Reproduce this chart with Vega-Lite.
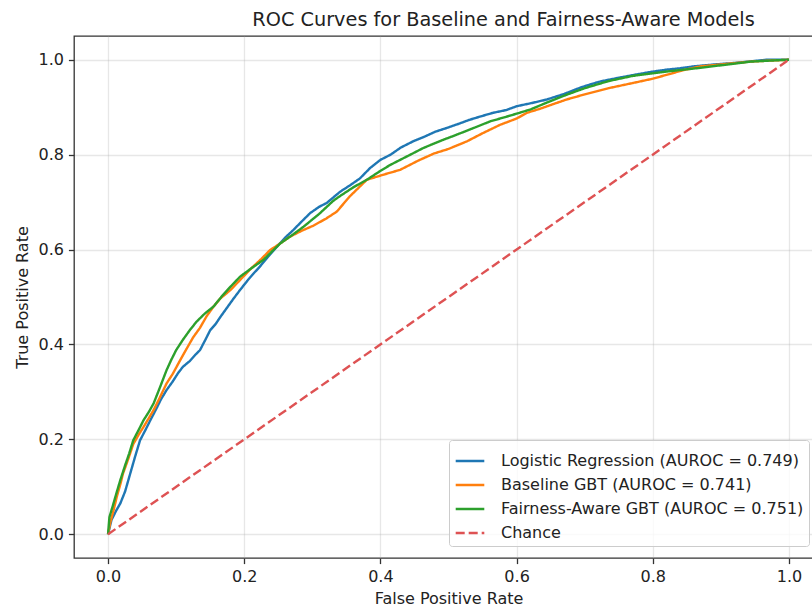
{
  "$schema": "https://vega.github.io/schema/vega-lite/v6.json",
  "width": 749,
  "height": 522,
  "autosize": {"type": "none"},
  "padding": {"left": 74, "top": 36, "right": 0, "bottom": 50},
  "background": "white",
  "title": {
    "text": "ROC Curves for Baseline and Fairness-Aware Models",
    "font": "DejaVu Sans",
    "fontSize": 19.3,
    "fontWeight": "normal",
    "color": "#222222",
    "anchor": "middle",
    "dx": 55,
    "offset": -9,
    "baseline": "alphabetic"
  },
  "config": {
    "view": {"stroke": "#333333", "strokeWidth": 1.3},
    "axis": {
      "labelFont": "DejaVu Sans",
      "labelFontSize": 16,
      "titleFont": "DejaVu Sans",
      "titleFontSize": 16,
      "titleFontWeight": "normal",
      "labelColor": "#222222",
      "titleColor": "#222222",
      "tickColor": "#333333",
      "tickSize": 5.6,
      "tickWidth": 1.3,
      "labelPadding": 5,
      "domain": false,
      "gridColor": "#b0b0b0",
      "gridOpacity": 0.3,
      "gridWidth": 1.3
    },
    "legend": {
      "orient": "none",
      "legendX": 375,
      "legendY": 404,
      "symbolType": "stroke",
      "symbolSize": 818,
      "symbolStrokeWidth": 2.4,
      "labelFont": "DejaVu Sans",
      "labelFontSize": 16,
      "labelColor": "#222222",
      "labelOffset": 15,
      "labelLimit": 500,
      "rowPadding": 0,
      "padding": 5,
      "fillColor": "rgba(255,255,255,0.8)",
      "strokeColor": "#cccccc",
      "cornerRadius": 3
    }
  },
  "data": {
    "values": [
      {"model": "Logistic Regression (AUROC = 0.749)", "fpr": 0, "tpr": 0},
      {"model": "Logistic Regression (AUROC = 0.749)", "fpr": 0.005, "tpr": 0.03},
      {"model": "Logistic Regression (AUROC = 0.749)", "fpr": 0.012, "tpr": 0.05},
      {"model": "Logistic Regression (AUROC = 0.749)", "fpr": 0.018, "tpr": 0.065},
      {"model": "Logistic Regression (AUROC = 0.749)", "fpr": 0.025, "tpr": 0.09},
      {"model": "Logistic Regression (AUROC = 0.749)", "fpr": 0.033, "tpr": 0.13},
      {"model": "Logistic Regression (AUROC = 0.749)", "fpr": 0.04, "tpr": 0.165},
      {"model": "Logistic Regression (AUROC = 0.749)", "fpr": 0.047, "tpr": 0.198},
      {"model": "Logistic Regression (AUROC = 0.749)", "fpr": 0.055, "tpr": 0.22},
      {"model": "Logistic Regression (AUROC = 0.749)", "fpr": 0.062, "tpr": 0.24},
      {"model": "Logistic Regression (AUROC = 0.749)", "fpr": 0.07, "tpr": 0.262},
      {"model": "Logistic Regression (AUROC = 0.749)", "fpr": 0.078, "tpr": 0.285},
      {"model": "Logistic Regression (AUROC = 0.749)", "fpr": 0.086, "tpr": 0.304},
      {"model": "Logistic Regression (AUROC = 0.749)", "fpr": 0.095, "tpr": 0.322},
      {"model": "Logistic Regression (AUROC = 0.749)", "fpr": 0.103, "tpr": 0.34},
      {"model": "Logistic Regression (AUROC = 0.749)", "fpr": 0.11, "tpr": 0.353},
      {"model": "Logistic Regression (AUROC = 0.749)", "fpr": 0.12, "tpr": 0.365},
      {"model": "Logistic Regression (AUROC = 0.749)", "fpr": 0.128, "tpr": 0.378},
      {"model": "Logistic Regression (AUROC = 0.749)", "fpr": 0.135, "tpr": 0.388},
      {"model": "Logistic Regression (AUROC = 0.749)", "fpr": 0.143, "tpr": 0.41},
      {"model": "Logistic Regression (AUROC = 0.749)", "fpr": 0.15, "tpr": 0.43},
      {"model": "Logistic Regression (AUROC = 0.749)", "fpr": 0.158, "tpr": 0.443},
      {"model": "Logistic Regression (AUROC = 0.749)", "fpr": 0.165, "tpr": 0.458},
      {"model": "Logistic Regression (AUROC = 0.749)", "fpr": 0.175, "tpr": 0.478},
      {"model": "Logistic Regression (AUROC = 0.749)", "fpr": 0.185, "tpr": 0.498},
      {"model": "Logistic Regression (AUROC = 0.749)", "fpr": 0.194, "tpr": 0.515},
      {"model": "Logistic Regression (AUROC = 0.749)", "fpr": 0.205, "tpr": 0.535},
      {"model": "Logistic Regression (AUROC = 0.749)", "fpr": 0.214, "tpr": 0.55},
      {"model": "Logistic Regression (AUROC = 0.749)", "fpr": 0.223, "tpr": 0.564},
      {"model": "Logistic Regression (AUROC = 0.749)", "fpr": 0.235, "tpr": 0.585},
      {"model": "Logistic Regression (AUROC = 0.749)", "fpr": 0.248, "tpr": 0.606},
      {"model": "Logistic Regression (AUROC = 0.749)", "fpr": 0.26, "tpr": 0.625},
      {"model": "Logistic Regression (AUROC = 0.749)", "fpr": 0.272, "tpr": 0.641},
      {"model": "Logistic Regression (AUROC = 0.749)", "fpr": 0.285, "tpr": 0.66},
      {"model": "Logistic Regression (AUROC = 0.749)", "fpr": 0.297, "tpr": 0.677},
      {"model": "Logistic Regression (AUROC = 0.749)", "fpr": 0.31, "tpr": 0.69},
      {"model": "Logistic Regression (AUROC = 0.749)", "fpr": 0.321, "tpr": 0.698},
      {"model": "Logistic Regression (AUROC = 0.749)", "fpr": 0.331, "tpr": 0.71},
      {"model": "Logistic Regression (AUROC = 0.749)", "fpr": 0.341, "tpr": 0.722},
      {"model": "Logistic Regression (AUROC = 0.749)", "fpr": 0.355, "tpr": 0.735},
      {"model": "Logistic Regression (AUROC = 0.749)", "fpr": 0.37, "tpr": 0.75},
      {"model": "Logistic Regression (AUROC = 0.749)", "fpr": 0.385, "tpr": 0.772},
      {"model": "Logistic Regression (AUROC = 0.749)", "fpr": 0.4, "tpr": 0.789},
      {"model": "Logistic Regression (AUROC = 0.749)", "fpr": 0.415, "tpr": 0.8},
      {"model": "Logistic Regression (AUROC = 0.749)", "fpr": 0.43, "tpr": 0.815},
      {"model": "Logistic Regression (AUROC = 0.749)", "fpr": 0.448, "tpr": 0.828},
      {"model": "Logistic Regression (AUROC = 0.749)", "fpr": 0.465, "tpr": 0.838},
      {"model": "Logistic Regression (AUROC = 0.749)", "fpr": 0.48, "tpr": 0.848},
      {"model": "Logistic Regression (AUROC = 0.749)", "fpr": 0.497, "tpr": 0.856},
      {"model": "Logistic Regression (AUROC = 0.749)", "fpr": 0.515, "tpr": 0.865},
      {"model": "Logistic Regression (AUROC = 0.749)", "fpr": 0.53, "tpr": 0.873},
      {"model": "Logistic Regression (AUROC = 0.749)", "fpr": 0.546, "tpr": 0.88},
      {"model": "Logistic Regression (AUROC = 0.749)", "fpr": 0.565, "tpr": 0.888},
      {"model": "Logistic Regression (AUROC = 0.749)", "fpr": 0.585, "tpr": 0.894},
      {"model": "Logistic Regression (AUROC = 0.749)", "fpr": 0.6, "tpr": 0.902},
      {"model": "Logistic Regression (AUROC = 0.749)", "fpr": 0.62, "tpr": 0.908},
      {"model": "Logistic Regression (AUROC = 0.749)", "fpr": 0.644, "tpr": 0.916},
      {"model": "Logistic Regression (AUROC = 0.749)", "fpr": 0.67, "tpr": 0.928},
      {"model": "Logistic Regression (AUROC = 0.749)", "fpr": 0.695, "tpr": 0.942},
      {"model": "Logistic Regression (AUROC = 0.749)", "fpr": 0.722, "tpr": 0.954},
      {"model": "Logistic Regression (AUROC = 0.749)", "fpr": 0.75, "tpr": 0.962},
      {"model": "Logistic Regression (AUROC = 0.749)", "fpr": 0.78, "tpr": 0.97},
      {"model": "Logistic Regression (AUROC = 0.749)", "fpr": 0.8, "tpr": 0.975},
      {"model": "Logistic Regression (AUROC = 0.749)", "fpr": 0.82, "tpr": 0.979},
      {"model": "Logistic Regression (AUROC = 0.749)", "fpr": 0.84, "tpr": 0.982},
      {"model": "Logistic Regression (AUROC = 0.749)", "fpr": 0.86, "tpr": 0.986},
      {"model": "Logistic Regression (AUROC = 0.749)", "fpr": 0.89, "tpr": 0.99},
      {"model": "Logistic Regression (AUROC = 0.749)", "fpr": 0.918, "tpr": 0.993},
      {"model": "Logistic Regression (AUROC = 0.749)", "fpr": 0.94, "tpr": 0.996},
      {"model": "Logistic Regression (AUROC = 0.749)", "fpr": 0.967, "tpr": 1.0},
      {"model": "Logistic Regression (AUROC = 0.749)", "fpr": 1.0, "tpr": 1.0},

      {"model": "Baseline GBT (AUROC = 0.741)", "fpr": 0, "tpr": 0},
      {"model": "Baseline GBT (AUROC = 0.741)", "fpr": 0.003, "tpr": 0.023},
      {"model": "Baseline GBT (AUROC = 0.741)", "fpr": 0.008, "tpr": 0.05},
      {"model": "Baseline GBT (AUROC = 0.741)", "fpr": 0.013, "tpr": 0.08},
      {"model": "Baseline GBT (AUROC = 0.741)", "fpr": 0.018, "tpr": 0.105},
      {"model": "Baseline GBT (AUROC = 0.741)", "fpr": 0.022, "tpr": 0.128},
      {"model": "Baseline GBT (AUROC = 0.741)", "fpr": 0.03, "tpr": 0.16},
      {"model": "Baseline GBT (AUROC = 0.741)", "fpr": 0.037, "tpr": 0.19},
      {"model": "Baseline GBT (AUROC = 0.741)", "fpr": 0.045, "tpr": 0.21},
      {"model": "Baseline GBT (AUROC = 0.741)", "fpr": 0.052, "tpr": 0.226},
      {"model": "Baseline GBT (AUROC = 0.741)", "fpr": 0.06, "tpr": 0.245},
      {"model": "Baseline GBT (AUROC = 0.741)", "fpr": 0.067, "tpr": 0.262},
      {"model": "Baseline GBT (AUROC = 0.741)", "fpr": 0.075, "tpr": 0.285},
      {"model": "Baseline GBT (AUROC = 0.741)", "fpr": 0.086, "tpr": 0.318},
      {"model": "Baseline GBT (AUROC = 0.741)", "fpr": 0.095, "tpr": 0.338},
      {"model": "Baseline GBT (AUROC = 0.741)", "fpr": 0.106, "tpr": 0.367},
      {"model": "Baseline GBT (AUROC = 0.741)", "fpr": 0.115, "tpr": 0.39},
      {"model": "Baseline GBT (AUROC = 0.741)", "fpr": 0.125, "tpr": 0.415},
      {"model": "Baseline GBT (AUROC = 0.741)", "fpr": 0.135, "tpr": 0.435},
      {"model": "Baseline GBT (AUROC = 0.741)", "fpr": 0.145, "tpr": 0.46},
      {"model": "Baseline GBT (AUROC = 0.741)", "fpr": 0.155, "tpr": 0.48},
      {"model": "Baseline GBT (AUROC = 0.741)", "fpr": 0.165, "tpr": 0.497},
      {"model": "Baseline GBT (AUROC = 0.741)", "fpr": 0.18, "tpr": 0.515},
      {"model": "Baseline GBT (AUROC = 0.741)", "fpr": 0.194, "tpr": 0.536},
      {"model": "Baseline GBT (AUROC = 0.741)", "fpr": 0.21, "tpr": 0.56},
      {"model": "Baseline GBT (AUROC = 0.741)", "fpr": 0.225, "tpr": 0.58},
      {"model": "Baseline GBT (AUROC = 0.741)", "fpr": 0.238, "tpr": 0.599},
      {"model": "Baseline GBT (AUROC = 0.741)", "fpr": 0.252, "tpr": 0.612},
      {"model": "Baseline GBT (AUROC = 0.741)", "fpr": 0.267, "tpr": 0.627},
      {"model": "Baseline GBT (AUROC = 0.741)", "fpr": 0.285, "tpr": 0.64},
      {"model": "Baseline GBT (AUROC = 0.741)", "fpr": 0.301, "tpr": 0.65},
      {"model": "Baseline GBT (AUROC = 0.741)", "fpr": 0.32, "tpr": 0.665},
      {"model": "Baseline GBT (AUROC = 0.741)", "fpr": 0.336, "tpr": 0.68},
      {"model": "Baseline GBT (AUROC = 0.741)", "fpr": 0.355, "tpr": 0.712},
      {"model": "Baseline GBT (AUROC = 0.741)", "fpr": 0.38, "tpr": 0.747},
      {"model": "Baseline GBT (AUROC = 0.741)", "fpr": 0.405, "tpr": 0.758},
      {"model": "Baseline GBT (AUROC = 0.741)", "fpr": 0.429, "tpr": 0.768},
      {"model": "Baseline GBT (AUROC = 0.741)", "fpr": 0.455, "tpr": 0.787},
      {"model": "Baseline GBT (AUROC = 0.741)", "fpr": 0.478, "tpr": 0.802},
      {"model": "Baseline GBT (AUROC = 0.741)", "fpr": 0.5, "tpr": 0.812},
      {"model": "Baseline GBT (AUROC = 0.741)", "fpr": 0.527, "tpr": 0.828},
      {"model": "Baseline GBT (AUROC = 0.741)", "fpr": 0.55, "tpr": 0.845},
      {"model": "Baseline GBT (AUROC = 0.741)", "fpr": 0.576, "tpr": 0.863},
      {"model": "Baseline GBT (AUROC = 0.741)", "fpr": 0.6, "tpr": 0.876},
      {"model": "Baseline GBT (AUROC = 0.741)", "fpr": 0.615, "tpr": 0.888},
      {"model": "Baseline GBT (AUROC = 0.741)", "fpr": 0.635, "tpr": 0.897},
      {"model": "Baseline GBT (AUROC = 0.741)", "fpr": 0.655, "tpr": 0.907},
      {"model": "Baseline GBT (AUROC = 0.741)", "fpr": 0.673, "tpr": 0.916},
      {"model": "Baseline GBT (AUROC = 0.741)", "fpr": 0.7, "tpr": 0.927},
      {"model": "Baseline GBT (AUROC = 0.741)", "fpr": 0.735, "tpr": 0.94},
      {"model": "Baseline GBT (AUROC = 0.741)", "fpr": 0.771, "tpr": 0.951},
      {"model": "Baseline GBT (AUROC = 0.741)", "fpr": 0.8, "tpr": 0.96},
      {"model": "Baseline GBT (AUROC = 0.741)", "fpr": 0.82, "tpr": 0.968},
      {"model": "Baseline GBT (AUROC = 0.741)", "fpr": 0.845, "tpr": 0.978},
      {"model": "Baseline GBT (AUROC = 0.741)", "fpr": 0.87, "tpr": 0.986},
      {"model": "Baseline GBT (AUROC = 0.741)", "fpr": 0.9, "tpr": 0.99},
      {"model": "Baseline GBT (AUROC = 0.741)", "fpr": 0.943, "tpr": 0.996},
      {"model": "Baseline GBT (AUROC = 0.741)", "fpr": 0.97, "tpr": 0.998},
      {"model": "Baseline GBT (AUROC = 0.741)", "fpr": 1.0, "tpr": 1.0},

      {"model": "Fairness-Aware GBT (AUROC = 0.751)", "fpr": 0, "tpr": 0},
      {"model": "Fairness-Aware GBT (AUROC = 0.751)", "fpr": 0.002, "tpr": 0.036},
      {"model": "Fairness-Aware GBT (AUROC = 0.751)", "fpr": 0.007, "tpr": 0.06},
      {"model": "Fairness-Aware GBT (AUROC = 0.751)", "fpr": 0.012, "tpr": 0.085},
      {"model": "Fairness-Aware GBT (AUROC = 0.751)", "fpr": 0.018, "tpr": 0.114},
      {"model": "Fairness-Aware GBT (AUROC = 0.751)", "fpr": 0.025, "tpr": 0.145},
      {"model": "Fairness-Aware GBT (AUROC = 0.751)", "fpr": 0.031, "tpr": 0.17},
      {"model": "Fairness-Aware GBT (AUROC = 0.751)", "fpr": 0.037, "tpr": 0.198},
      {"model": "Fairness-Aware GBT (AUROC = 0.751)", "fpr": 0.045, "tpr": 0.22},
      {"model": "Fairness-Aware GBT (AUROC = 0.751)", "fpr": 0.052, "tpr": 0.24},
      {"model": "Fairness-Aware GBT (AUROC = 0.751)", "fpr": 0.06, "tpr": 0.258},
      {"model": "Fairness-Aware GBT (AUROC = 0.751)", "fpr": 0.067, "tpr": 0.276},
      {"model": "Fairness-Aware GBT (AUROC = 0.751)", "fpr": 0.075, "tpr": 0.305},
      {"model": "Fairness-Aware GBT (AUROC = 0.751)", "fpr": 0.086, "tpr": 0.346},
      {"model": "Fairness-Aware GBT (AUROC = 0.751)", "fpr": 0.093, "tpr": 0.368},
      {"model": "Fairness-Aware GBT (AUROC = 0.751)", "fpr": 0.1, "tpr": 0.388},
      {"model": "Fairness-Aware GBT (AUROC = 0.751)", "fpr": 0.11, "tpr": 0.41},
      {"model": "Fairness-Aware GBT (AUROC = 0.751)", "fpr": 0.12, "tpr": 0.43},
      {"model": "Fairness-Aware GBT (AUROC = 0.751)", "fpr": 0.13, "tpr": 0.448},
      {"model": "Fairness-Aware GBT (AUROC = 0.751)", "fpr": 0.142, "tpr": 0.465},
      {"model": "Fairness-Aware GBT (AUROC = 0.751)", "fpr": 0.155, "tpr": 0.48},
      {"model": "Fairness-Aware GBT (AUROC = 0.751)", "fpr": 0.168, "tpr": 0.503},
      {"model": "Fairness-Aware GBT (AUROC = 0.751)", "fpr": 0.18, "tpr": 0.522},
      {"model": "Fairness-Aware GBT (AUROC = 0.751)", "fpr": 0.194, "tpr": 0.543},
      {"model": "Fairness-Aware GBT (AUROC = 0.751)", "fpr": 0.21, "tpr": 0.56},
      {"model": "Fairness-Aware GBT (AUROC = 0.751)", "fpr": 0.228, "tpr": 0.578},
      {"model": "Fairness-Aware GBT (AUROC = 0.751)", "fpr": 0.24, "tpr": 0.595},
      {"model": "Fairness-Aware GBT (AUROC = 0.751)", "fpr": 0.253, "tpr": 0.613},
      {"model": "Fairness-Aware GBT (AUROC = 0.751)", "fpr": 0.27, "tpr": 0.63},
      {"model": "Fairness-Aware GBT (AUROC = 0.751)", "fpr": 0.287, "tpr": 0.648},
      {"model": "Fairness-Aware GBT (AUROC = 0.751)", "fpr": 0.31, "tpr": 0.675},
      {"model": "Fairness-Aware GBT (AUROC = 0.751)", "fpr": 0.331, "tpr": 0.703},
      {"model": "Fairness-Aware GBT (AUROC = 0.751)", "fpr": 0.341, "tpr": 0.713},
      {"model": "Fairness-Aware GBT (AUROC = 0.751)", "fpr": 0.36, "tpr": 0.731},
      {"model": "Fairness-Aware GBT (AUROC = 0.751)", "fpr": 0.38, "tpr": 0.747},
      {"model": "Fairness-Aware GBT (AUROC = 0.751)", "fpr": 0.397, "tpr": 0.763},
      {"model": "Fairness-Aware GBT (AUROC = 0.751)", "fpr": 0.414, "tpr": 0.778},
      {"model": "Fairness-Aware GBT (AUROC = 0.751)", "fpr": 0.44, "tpr": 0.797},
      {"model": "Fairness-Aware GBT (AUROC = 0.751)", "fpr": 0.463, "tpr": 0.814},
      {"model": "Fairness-Aware GBT (AUROC = 0.751)", "fpr": 0.49, "tpr": 0.83},
      {"model": "Fairness-Aware GBT (AUROC = 0.751)", "fpr": 0.512, "tpr": 0.842},
      {"model": "Fairness-Aware GBT (AUROC = 0.751)", "fpr": 0.535, "tpr": 0.855},
      {"model": "Fairness-Aware GBT (AUROC = 0.751)", "fpr": 0.561, "tpr": 0.87},
      {"model": "Fairness-Aware GBT (AUROC = 0.751)", "fpr": 0.59, "tpr": 0.882},
      {"model": "Fairness-Aware GBT (AUROC = 0.751)", "fpr": 0.62, "tpr": 0.895},
      {"model": "Fairness-Aware GBT (AUROC = 0.751)", "fpr": 0.645, "tpr": 0.91},
      {"model": "Fairness-Aware GBT (AUROC = 0.751)", "fpr": 0.673, "tpr": 0.926},
      {"model": "Fairness-Aware GBT (AUROC = 0.751)", "fpr": 0.7, "tpr": 0.94},
      {"model": "Fairness-Aware GBT (AUROC = 0.751)", "fpr": 0.735, "tpr": 0.955},
      {"model": "Fairness-Aware GBT (AUROC = 0.751)", "fpr": 0.771, "tpr": 0.966},
      {"model": "Fairness-Aware GBT (AUROC = 0.751)", "fpr": 0.82, "tpr": 0.975},
      {"model": "Fairness-Aware GBT (AUROC = 0.751)", "fpr": 0.87, "tpr": 0.983},
      {"model": "Fairness-Aware GBT (AUROC = 0.751)", "fpr": 0.91, "tpr": 0.99},
      {"model": "Fairness-Aware GBT (AUROC = 0.751)", "fpr": 0.943, "tpr": 0.996},
      {"model": "Fairness-Aware GBT (AUROC = 0.751)", "fpr": 0.97, "tpr": 0.998},
      {"model": "Fairness-Aware GBT (AUROC = 0.751)", "fpr": 1.0, "tpr": 1.0},

      {"model": "Chance", "fpr": 0, "tpr": 0},
      {"model": "Chance", "fpr": 1, "tpr": 1}
    ]
  },
  "mark": {"type": "line", "strokeWidth": 2.4, "clip": true},
  "encoding": {
    "x": {
      "field": "fpr",
      "type": "quantitative",
      "scale": {"domain": [-0.05, 1.05], "nice": false, "zero": false},
      "axis": {"values": [0, 0.2, 0.4, 0.6, 0.8, 1.0], "format": ".1f", "title": "False Positive Rate", "titlePadding": 6, "grid": true}
    },
    "y": {
      "field": "tpr",
      "type": "quantitative",
      "scale": {"domain": [-0.05, 1.05], "nice": false, "zero": false},
      "axis": {"values": [0, 0.2, 0.4, 0.6, 0.8, 1.0], "format": ".1f", "title": "True Positive Rate", "titlePadding": 7, "grid": true}
    },
    "color": {
      "field": "model",
      "type": "nominal",
      "sort": null,
      "scale": {
        "domain": ["Logistic Regression (AUROC = 0.749)", "Baseline GBT (AUROC = 0.741)", "Fairness-Aware GBT (AUROC = 0.751)", "Chance"],
        "range": ["#1f77b4", "#ff7f0e", "#2ca02c", "#de5253"]
      },
      "legend": {"title": null}
    },
    "strokeDash": {
      "field": "model",
      "type": "nominal",
      "sort": null,
      "scale": {
        "domain": ["Logistic Regression (AUROC = 0.749)", "Baseline GBT (AUROC = 0.741)", "Fairness-Aware GBT (AUROC = 0.751)", "Chance"],
        "range": [[1, 0], [1, 0], [1, 0], [9, 4]]
      },
      "legend": {"title": null}
    }
  }
}
